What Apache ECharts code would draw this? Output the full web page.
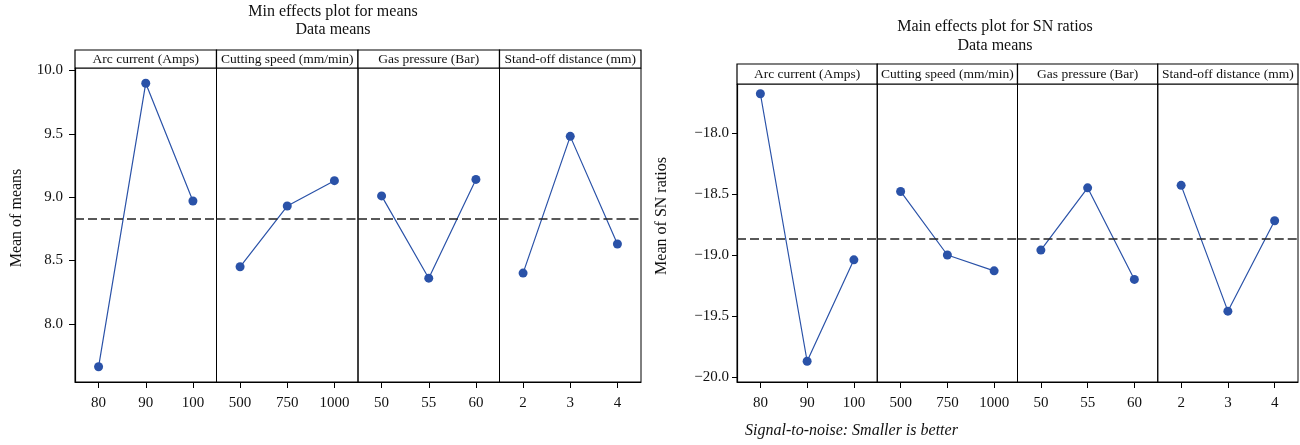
<!DOCTYPE html>
<html>
<head>
<meta charset="utf-8">
<title>Main effects plots</title>
<script src="https://cdn.jsdelivr.net/npm/echarts@6/dist/echarts.min.js"></script>
<style>
  html, body { margin: 0; padding: 0; background: #fff; }
  #chart { width: 1300px; height: 445px; }
</style>
</head>
<body>
<div id="chart"></div>
<script>
// Factor names and their levels
const factors = ['Arc current (Amps)', 'Cutting speed (mm/min)', 'Gas pressure (Bar)', 'Stand-off distance (mm)'];
const arcLevels = ['80', '90', '100'];
const speedLevels = ['500', '750', '1000'];
const pressureLevels = ['50', '55', '60'];
const standoffLevels = ['2', '3', '4'];

// Mean of means for each factor level
const meansArc = [7.66, 9.90, 8.97];
const meansSpeed = [8.45, 8.93, 9.13];
const meansPressure = [9.01, 8.36, 9.14];
const meansStandoff = [8.40, 9.48, 8.63];
const meansGrand = 8.83;

// Mean of SN ratios for each factor level
const snArc = [-17.68, -19.87, -19.04];
const snSpeed = [-18.48, -19.00, -19.13];
const snPressure = [-18.96, -18.45, -19.20];
const snStandoff = [-18.43, -19.46, -18.72];
const snGrand = -18.87;

// Y tick labels
const meansTicks = [8.0, 8.5, 9.0, 9.5, 10.0];
const snTicks = [-20.0, -19.5, -19.0, -18.5, -18.0];

const levels = [arcLevels, speedLevels, pressureLevels, standoffLevels];

const FONT = '"Liberation Serif", "DejaVu Serif", serif';
const BLUE = '#2a52a8';

const panels = [
  {
    title: 'Min effects plot for means', titleTop: 3, titleGap: 0, titleX: 333,
    left: 75, right: 641, top: 68, bottom: 382, headerH: 18,
    values: [meansArc, meansSpeed, meansPressure, meansStandoff],
    grand: meansGrand, ticks: meansTicks, min: 7.54, max: 10.02,
    yName: 'Mean of means', nameX: 17, nameY: 218,
    tickLen: 6, labelMargin: 12
  },
  {
    title: 'Main effects plot for SN ratios', titleTop: 18, titleGap: 1, titleX: 995,
    left: 737, right: 1298, top: 84, bottom: 382, headerH: 20,
    values: [snArc, snSpeed, snPressure, snStandoff],
    grand: snGrand, ticks: snTicks, min: -20.04, max: -17.60,
    yName: 'Mean of SN ratios', nameX: 662, nameY: 216,
    tickLen: 5, labelMargin: 8
  }
];

const grid = [], xAxis = [], yAxis = [], series = [], graphic = [], title = [];

function fmt(v) {
  return v.toFixed(1).replace('-', '\u2212');
}

panels.forEach((p, pi) => {
  const w = (p.right - p.left) / 4;
  title.push({
    text: p.title,
    subtext: 'Data means',
    left: p.titleX,
    top: p.titleTop,
    padding: 0,
    textAlign: 'center',
    itemGap: p.titleGap,
    textStyle: { fontFamily: FONT, fontSize: 16, lineHeight: 18, fontWeight: 'normal', color: '#111' },
    subtextStyle: { fontFamily: FONT, fontSize: 16, lineHeight: 18, color: '#111' }
  });
  // y axis title, drawn vertically beside the first strip
  graphic.push({
    type: 'text', x: p.nameX, y: p.nameY, rotation: Math.PI / 2,
    style: {
      text: p.yName, align: 'center', verticalAlign: 'middle',
      font: '16px ' + FONT, fill: '#111'
    }
  });
  for (let f = 0; f < 4; f++) {
    const idx = pi * 4 + f;
    const gx = p.left + f * w;
    grid.push({
      left: gx, top: p.top, width: w, height: p.bottom - p.top,
      show: true, borderColor: '#000', borderWidth: 1, backgroundColor: 'transparent',
      containLabel: false, outerBoundsMode: 'none'
    });
    xAxis.push({
      type: 'category', gridIndex: idx, data: levels[f], boundaryGap: true,
      axisLine: { show: true, lineStyle: { color: '#000', width: 1.2 } },
      axisTick: { show: true, alignWithLabel: true, length: 6, lineStyle: { color: '#000' } },
      axisLabel: { margin: 14, fontFamily: FONT, fontSize: 15, color: '#111' },
      splitLine: { show: false }
    });
    const first = f === 0;
    yAxis.push({
      type: 'value', gridIndex: idx, min: p.min, max: p.max,
      axisLine: { show: first, lineStyle: { color: '#000', width: 1.2 } },
      axisTick: { show: first, length: p.tickLen, customValues: p.ticks, lineStyle: { color: '#000' } },
      axisLabel: {
        show: first, customValues: p.ticks, margin: p.labelMargin,
        fontFamily: FONT, fontSize: 15, color: '#111', formatter: fmt
      },
      splitLine: { show: false }
    });
    series.push({
      type: 'line', xAxisIndex: idx, yAxisIndex: idx,
      data: p.values[f],
      symbol: 'circle', symbolSize: 9,
      lineStyle: { color: BLUE, width: 1.2 },
      itemStyle: { color: BLUE },
      animation: false,
      markLine: {
        silent: true, symbol: 'none', label: { show: false },
        lineStyle: { color: '#222', type: [9, 4], width: 1.6 },
        data: [{ yAxis: p.grand }]
      }
    });
    // strip header for the factor
    graphic.push({
      type: 'rect',
      shape: { x: gx, y: p.top - p.headerH, width: w, height: p.headerH },
      style: { fill: '#fff', stroke: '#000', lineWidth: 1.2 }
    });
    graphic.push({
      type: 'text',
      x: gx + w / 2, y: p.top - p.headerH / 2,
      style: {
        text: factors[f], align: 'center', verticalAlign: 'middle',
        font: '13.5px ' + FONT, fill: '#111'
      }
    });
  }
});

graphic.push({
  type: 'text', x: 745, y: 431,
  style: {
    text: 'Signal-to-noise: Smaller is better', verticalAlign: 'middle',
    font: 'italic 16px ' + FONT, fill: '#111'
  }
});

const chart = echarts.init(document.getElementById('chart'), null, { renderer: 'canvas' });
chart.setOption({
  animation: false,
  backgroundColor: '#fff',
  title, grid, xAxis, yAxis, series, graphic
});
</script>
</body>
</html>
